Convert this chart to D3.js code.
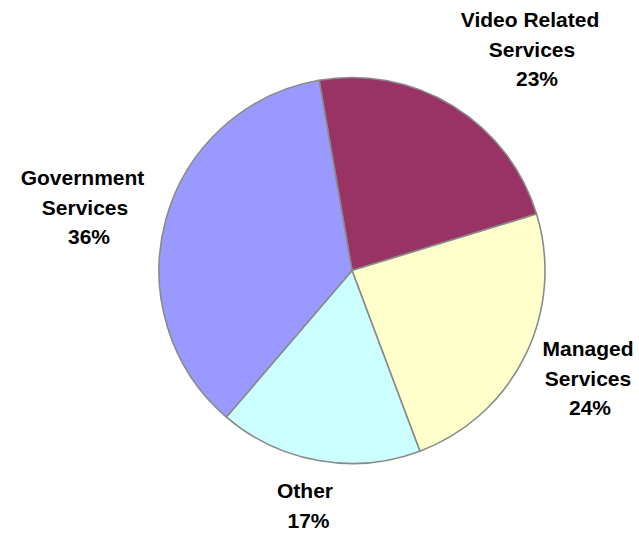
<!DOCTYPE html>
<html>
<head>
<meta charset="utf-8">
<script src="https://cdn.jsdelivr.net/npm/d3@7"></script>
<style>
  body { margin: 0; background: #fff; }
  text { font-family: "Liberation Sans", Arial, sans-serif; font-weight: bold; font-size: 21px; fill: #000; }
</style>
</head>
<body>
<div id="chart-area"></div>
<script>
// revenue split by segment (percent)
const categories = ['Video Related Services', 'Managed Services', 'Other', 'Government Services'];
const shares = [23, 24, 17, 36];
const labelLines = [
  ['Video Related', 'Services', '23%'],
  ['Managed', 'Services', '24%'],
  ['Other', '17%'],
  ['Government', 'Services', '36%'],
];
const colors = ['#993366', '#FFFFCC', '#CCFFFF', '#9999FF'];

const width = 639;
const height = 533;
const cx = 352, cy = 270.5, radius = 193;
const startDeg = -9.8;

// label anchors: centre x of each line, first baseline
const labelPos = [
  { xs: [530, 532, 537], y: 27 },
  { xs: [588, 588, 590], y: 356 },
  { xs: [305, 308.5], y: 498 },
  { xs: [82.5, 85, 89], y: 185 },
];
const lineGap = 29.5;

main();

function main() {
  const data = categories.map((name, i) => ({ name, value: shares[i], lines: labelLines[i], color: colors[i] }));

  const svg = d3.select('#chart-area').append('svg')
    .attr('width', width)
    .attr('height', height);

  const pie = d3.pie()
    .sort(null)
    .value(d => d.value)
    .startAngle(startDeg * Math.PI / 180)
    .endAngle(startDeg * Math.PI / 180 + 2 * Math.PI);

  const arc = d3.arc().innerRadius(0).outerRadius(radius);

  const g = svg.append('g')
    .attr('transform', `translate(${cx}, ${cy})`);

  g.selectAll('path')
    .data(pie(data))
    .enter()
    .append('path')
    .attr('d', arc)
    .attr('fill', d => d.data.color)
    .attr('stroke', '#8a8a8a')
    .attr('stroke-width', 1.6)
    .attr('stroke-linejoin', 'round');

  // labels
  data.forEach((d, i) => {
    const pos = labelPos[i];
    const t = svg.append('text').attr('text-anchor', 'middle');
    d.lines.forEach((line, j) => {
      t.append('tspan')
        .attr('x', pos.xs[j])
        .attr('y', pos.y + j * lineGap)
        .text(line);
    });
  });
}
</script>
</body>
</html>
